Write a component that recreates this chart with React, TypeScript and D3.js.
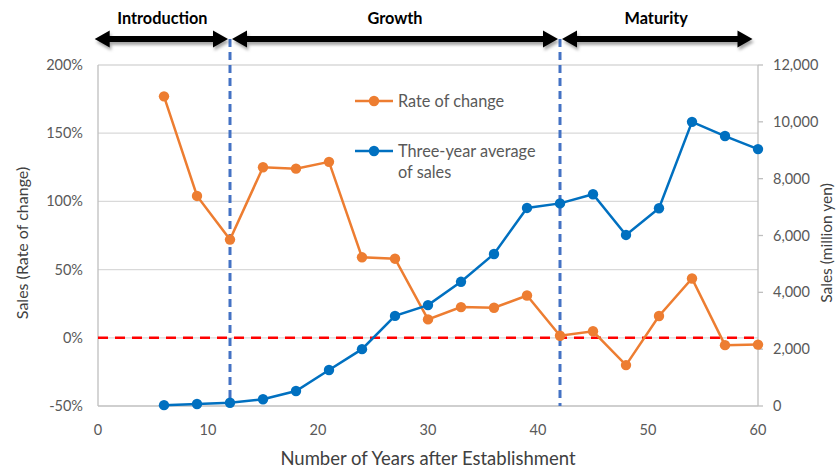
import React from "react";
import * as d3 from "d3";

const years = [6, 9, 12, 15, 18, 21, 24, 27, 30, 33, 36, 39, 42, 45, 48, 51, 54, 57, 60];
const rateOfChange = [177, 104, 72, 125, 124, 129, 59, 58, 13.5, 22.5, 22, 31, 1.5, 4.8, -20, 16, 43.5, -5.4, -5];
const threeYearAvg = [30, 70, 116, 236, 528, 1267, 2000, 3170, 3550, 4370, 5350, 6970, 7130, 7450, 6020, 6960, 10000, 9500, 9040];
const leftTicks = [-50, 0, 50, 100, 150, 200];
const rightTicks = [0, 2000, 4000, 6000, 8000, 10000, 12000];
const xTicks = [0, 10, 20, 30, 40, 50, 60];
const phaseBounds = [12, 42];
const phases = [
  { name: "Introduction", from: -0.3, to: 12 },
  { name: "Growth", from: 12, to: 42 },
  { name: "Maturity", from: 42, to: 59.5 },
];

const W = 838, H = 468;
const M = { left: 98, right: 80, top: 65, bottom: 62 };
const FONT = "Lato, 'Open Sans', sans-serif";
const ORANGE = "#ED7D31";
const BLUE = "#0070C0";
const TXT = "#595959";
const GRID = "#D9D9D9";

export default function App() {
  const x = d3.scaleLinear().domain([0, 60]).range([M.left, W - M.right]);
  const yL = d3.scaleLinear().domain([-50, 200]).range([H - M.bottom, M.top]);
  const yR = d3.scaleLinear().domain([0, 12000]).range([H - M.bottom, M.top]);
  const lineL = d3.line<number>().x((_, i) => x(years[i])).y((d) => yL(d));
  const lineR = d3.line<number>().x((_, i) => x(years[i])).y((d) => yR(d));
  const fmt = d3.format(",");
  const arrowY = 39;
  const x0 = x(0), x1 = x(60);
  const yb = yL(-50);

  const arrow = (a: number, b: number, key: string) => {
    const hl = 15, hw = 8.5, sw = 3;
    const d = `M${a},${arrowY} L${a + hl},${arrowY - hw} L${a + hl},${arrowY - sw} L${b - hl},${arrowY - sw} L${b - hl},${arrowY - hw} L${b},${arrowY} L${b - hl},${arrowY + hw} L${b - hl},${arrowY + sw} L${a + hl},${arrowY + sw} L${a + hl},${arrowY + hw} Z`;
    return <path key={key} d={d} fill="#000" filter="url(#shadow)" />;
  };

  return (
    <div style={{ position: "absolute", left: 0, top: 0 }}>
      <svg width={W} height={H} style={{ display: "block", background: "#fff" }} fontFamily={FONT}>
        <defs>
          <filter id="shadow" x="-10%" y="-50%" width="120%" height="220%">
            <feDropShadow dx="1.5" dy="3" stdDeviation="1.8" floodColor="#000" floodOpacity="0.35" />
          </filter>
        </defs>
        {/* gridlines */}
        {leftTicks.filter((t) => t > -50).map((t) => (
          <line key={"g" + t} x1={x0} x2={x1} y1={yL(t)} y2={yL(t)} stroke={GRID} strokeWidth={1.3} />
        ))}
        {/* axes */}
        <line x1={x0} x2={x0} y1={yL(200)} y2={yb} stroke="#BFBFBF" strokeWidth={1.3} />
        <line x1={x1} x2={x1} y1={yL(200)} y2={yb} stroke="#BFBFBF" strokeWidth={1.3} />
        <line x1={x0} x2={x1} y1={yb} y2={yb} stroke="#BFBFBF" strokeWidth={1.3} />
        {rightTicks.map((t) => (
          <line key={"rt" + t} x1={x1} x2={x1 + 5} y1={yR(t)} y2={yR(t)} stroke="#BFBFBF" strokeWidth={1.3} />
        ))}
        {/* tick labels */}
        {leftTicks.map((t) => (
          <text key={"lt" + t} x={x0 - 15} y={yL(t)} dy="0.35em" textAnchor="end" fontSize={14.5} fill={TXT}>
            {t + "%"}
          </text>
        ))}
        {rightTicks.map((t) => (
          <text key={"rl" + t} x={x1 + 15} y={yR(t)} dy="0.35em" textAnchor="start" fontSize={14.5} fill={TXT}>
            {fmt(t)}
          </text>
        ))}
        {xTicks.map((t) => (
          <text key={"xt" + t} x={x(t)} y={yb + 24} dy="0.35em" textAnchor="middle" fontSize={14.5} fill={TXT}>
            {t}
          </text>
        ))}
        {/* axis titles */}
        <text transform={`translate(28,${243}) rotate(-90)`} textAnchor="middle" fontSize={16} fill="#404040">
          Sales (Rate of change)
        </text>
        <text transform={`translate(832,${243}) rotate(-90)`} textAnchor="middle" fontSize={15.5} fill="#404040">
          Sales (million yen)
        </text>
        <text x={(x0 + x1) / 2} y={465} textAnchor="middle" fontSize={18.5} fill="#404040">
          Number of Years after Establishment
        </text>
        {/* zero line */}
        <line x1={x0} x2={x1} y1={yL(0)} y2={yL(0)} stroke="#FF0000" strokeWidth={2.5} strokeDasharray="10,7" />
        {/* phase dividers */}
        {phaseBounds.map((b) => (
          <line key={"pb" + b} x1={x(b)} x2={x(b)} y1={arrowY} y2={yb} stroke="#4472C4" strokeWidth={3} strokeDasharray="8,5" />
        ))}
        {/* series */}
        <path d={lineL(rateOfChange) || ""} fill="none" stroke={ORANGE} strokeWidth={2.5} />
        {rateOfChange.map((v, i) => (
          <circle key={"o" + i} cx={x(years[i])} cy={yL(v)} r={5.2} fill={ORANGE} />
        ))}
        <path d={lineR(threeYearAvg) || ""} fill="none" stroke={BLUE} strokeWidth={2.5} />
        {threeYearAvg.map((v, i) => (
          <circle key={"b" + i} cx={x(years[i])} cy={yR(v)} r={5.2} fill={BLUE} />
        ))}
        {/* legend */}
        <line x1={355} x2={393} y1={101} y2={101} stroke={ORANGE} strokeWidth={2.5} />
        <circle cx={374} cy={101} r={5.2} fill={ORANGE} />
        <text x={398} y={101} dy="0.35em" fontSize={16.3} fill={TXT}>Rate of change</text>
        <line x1={355} x2={393} y1={151} y2={151} stroke={BLUE} strokeWidth={2.5} />
        <circle cx={374} cy={151} r={5.2} fill={BLUE} />
        <text x={398} y={151} dy="0.35em" fontSize={16.3} fill={TXT}>Three-year average</text>
        <text x={398} y={172} dy="0.35em" fontSize={16.3} fill={TXT}>of sales</text>
        {/* phase arrows */}
        {phases.map((p, i) => arrow(x(p.from) + (i === 0 ? 0 : 2), x(p.to) - (i === 2 ? 0 : 2), "a" + i))}
        {phases.map((p, i) => (
          <text key={"pt" + i} x={(x(p.from) + x(p.to)) / 2} y={18} dy="0.35em" textAnchor="middle" fontSize={16.3} fontWeight="bold" fill="#000">
            {p.name}
          </text>
        ))}
      </svg>
    </div>
  );
}
